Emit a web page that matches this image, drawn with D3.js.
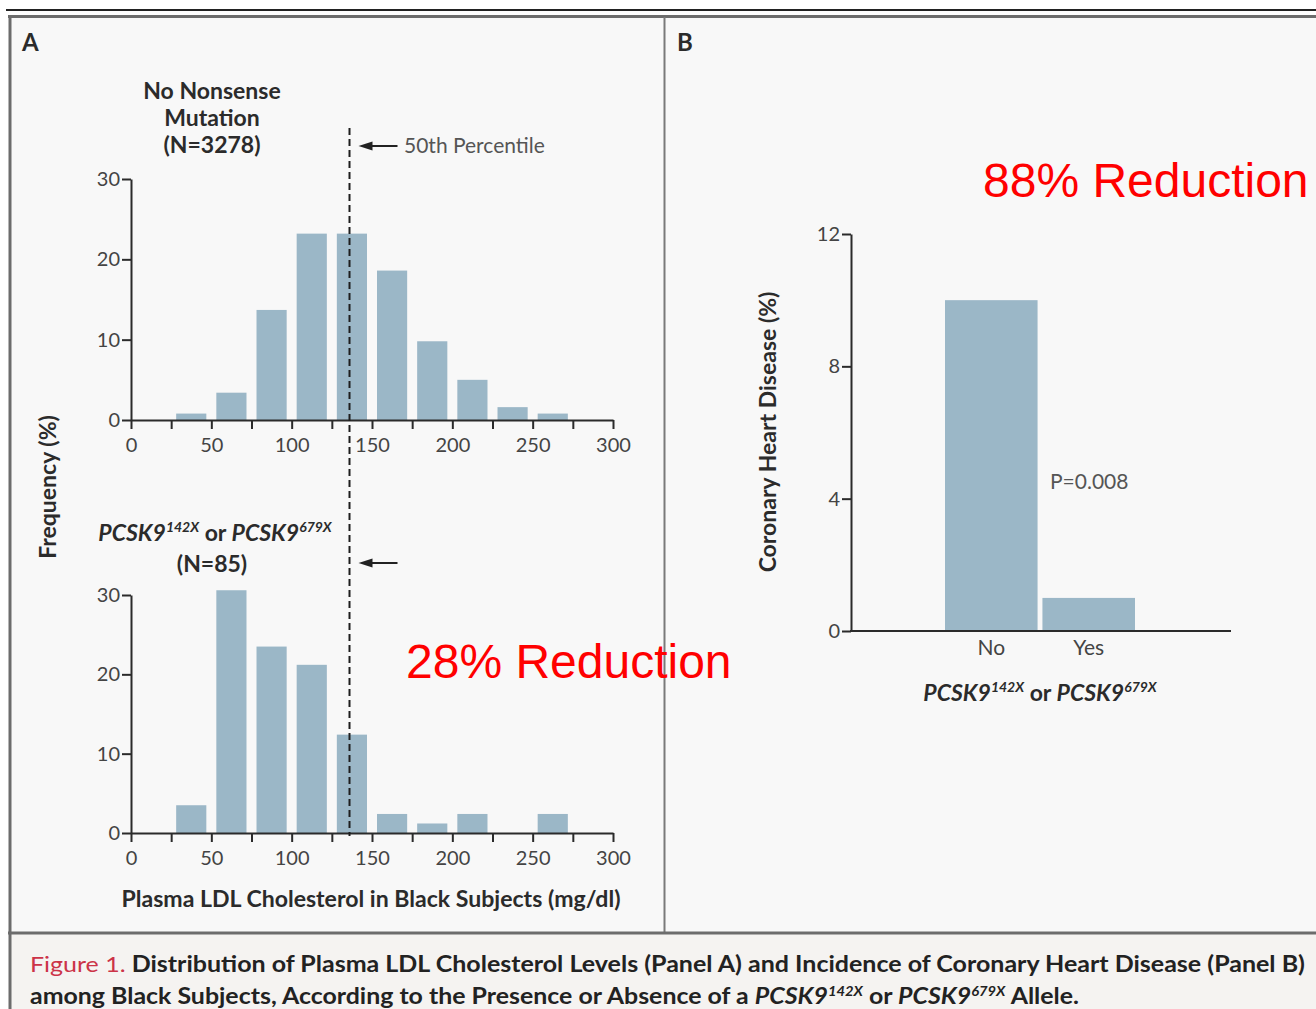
<!DOCTYPE html>
<html>
<head>
<meta charset="utf-8">
<script src="https://cdn.jsdelivr.net/npm/d3@7"></script>
<style>
  html, body { margin: 0; padding: 0; background: #ffffff; }
  svg { display: block; font-family: Lato, "Open Sans", sans-serif; }
</style>
</head>
<body>
<svg id="fig" width="1316" height="1009"></svg>
<script>
// LDL histogram bins (lower edge, mg/dl), 25 mg/dl wide
const ldlBinStarts = [25, 50, 75, 100, 125, 150, 175, 200, 225, 250];
const ldlBinWidth = 25;
// Frequency (%) of subjects in each bin
const freqNoMutation = [0.8, 3.4, 13.7, 23.2, 23.2, 18.6, 9.8, 5.0, 1.6, 0.8];
const freqNonsense = [3.5, 30.6, 23.5, 21.2, 12.4, 2.4, 1.2, 2.4, 0, 2.4];
// 50th percentile of LDL in the no-mutation group
const medianLDL = 136;
const ldlTickValues = d3.range(0, 301, 25);
const ldlLabelValues = [0, 50, 100, 150, 200, 250, 300];
const freqTickValues = [0, 10, 20, 30];

// Coronary heart disease incidence by carrier status
const chdGroups = ["No", "Yes"];
const chdRates = [10.0, 1.0];
const chdTickValues = [0, 4, 8, 12];

const barColor = "#9bb7c7";
const inkColor = "#2b2b2b";
const tickTextColor = "#444";
const titleSize = 23;

const svg = d3.select("#fig");

// ---------- frame ----------
svg.append("rect").attr("x", 10).attr("y", 17).attr("width", 1306).attr("height", 916).attr("fill", "#f8f8f8");
svg.append("rect").attr("x", 10).attr("y", 934).attr("width", 1306).attr("height", 75).attr("fill", "#f5f3f1");
svg.append("line").attr("x1", 6).attr("x2", 1316).attr("y1", 10).attr("y2", 10)
  .attr("stroke", "#222").attr("stroke-width", 2);
svg.append("line").attr("x1", 8).attr("x2", 1316).attr("y1", 16.5).attr("y2", 16.5)
  .attr("stroke", "#6c6c6c").attr("stroke-width", 3);
svg.append("line").attr("x1", 10).attr("x2", 10).attr("y1", 15).attr("y2", 1009)
  .attr("stroke", "#6c6c6c").attr("stroke-width", 3);
svg.append("line").attr("x1", 664.5).attr("x2", 664.5).attr("y1", 17).attr("y2", 933)
  .attr("stroke", "#7a7a7a").attr("stroke-width", 2);
svg.append("line").attr("x1", 8).attr("x2", 1316).attr("y1", 933).attr("y2", 933)
  .attr("stroke", "#6c6c6c").attr("stroke-width", 3);

// panel letters
svg.append("text").attr("x", 22).attr("y", 51).text("A")
  .attr("font-size", 24).attr("font-weight", 700).attr("fill", inkColor);
svg.append("text").attr("x", 677).attr("y", 51).text("B")
  .attr("font-size", 24).attr("font-weight", 700).attr("fill", inkColor);

// ---------- Panel A: histograms ----------
const x = d3.scaleLinear().domain([0, 300]).range([131, 613]);
const yTop = d3.scaleLinear().domain([0, 30]).range([420, 179]);
const yBot = d3.scaleLinear().domain([0, 30]).range([833, 595]);
const barInset = 5;

function styleAxis(g) {
  g.selectAll("path.domain").attr("stroke", inkColor).attr("stroke-width", 2);
  g.selectAll(".tick line").attr("stroke", inkColor).attr("stroke-width", 2);
  g.selectAll(".tick text").attr("fill", tickTextColor).attr("font-size", 20)
    .attr("font-family", "Lato, sans-serif");
}

function histogram(yScale, values) {
  const g = svg.append("g");
  g.selectAll("rect").data(values).join("rect")
    .attr("x", (d, i) => x(ldlBinStarts[i]) + barInset)
    .attr("width", (d, i) => x(ldlBinStarts[i] + ldlBinWidth) - x(ldlBinStarts[i]) - 2 * barInset)
    .attr("y", d => yScale(d))
    .attr("height", d => yScale(0) - yScale(d))
    .attr("fill", barColor);

  const yAxis = svg.append("g").attr("transform", `translate(${x(0)},0)`)
    .call(d3.axisLeft(yScale).tickValues(freqTickValues).tickSize(9).tickSizeOuter(0).tickPadding(2));
  styleAxis(yAxis);

  const xAxis = svg.append("g").attr("transform", `translate(0,${yScale(0)})`)
    .call(d3.axisBottom(x).tickValues(ldlTickValues).tickSize(9).tickSizeOuter(0).tickPadding(9)
      .tickFormat(d => ldlLabelValues.includes(d) ? d : ""));
  styleAxis(xAxis);
}

histogram(yTop, freqNoMutation);
histogram(yBot, freqNonsense);

// median reference line through both histograms
svg.append("line")
  .attr("x1", x(medianLDL)).attr("x2", x(medianLDL))
  .attr("y1", 128).attr("y2", yBot(0) + 3)
  .attr("stroke", "#1e1e1e").attr("stroke-width", 2).attr("stroke-dasharray", "7,4");

function leftArrow(y) {
  const xs = x(medianLDL) + 9;
  svg.append("line").attr("x1", xs + 8).attr("x2", xs + 39).attr("y1", y).attr("y2", y)
    .attr("stroke", "#222").attr("stroke-width", 2);
  svg.append("path")
    .attr("d", `M${xs},${y} L${xs + 14},${y - 4.5} L${xs + 14},${y + 4.5} Z`)
    .attr("fill", "#222");
}
leftArrow(146);
leftArrow(563);
svg.append("text").attr("x", 404).attr("y", 153).text("50th Percentile")
  .attr("font-size", 21).attr("fill", "#555");

// group titles
const topTitle = svg.append("text").attr("text-anchor", "middle").attr("font-weight", 700)
  .attr("font-size", titleSize).attr("fill", inkColor);
["No Nonsense", "Mutation", "(N=3278)"].forEach((t, i) =>
  topTitle.append("tspan").attr("x", 212).attr("y", 99 + i * 27).text(t));

function pcskLabel(sel, size) {
  const sup = Math.round(size * 0.62);
  const up = Math.round(size * 0.38);
  sel.append("tspan").attr("font-style", "italic").text("PCSK9");
  sel.append("tspan").attr("font-style", "italic").attr("font-size", sup).attr("dy", -up).text("142X");
  sel.append("tspan").attr("dy", up).text(" or ");
  sel.append("tspan").attr("font-style", "italic").text("PCSK9");
  sel.append("tspan").attr("font-style", "italic").attr("font-size", sup).attr("dy", -up).text("679X");
}
const botTitle = svg.append("text").attr("x", 215).attr("y", 541).attr("text-anchor", "middle")
  .attr("font-weight", 700).attr("font-size", titleSize).attr("fill", inkColor);
pcskLabel(botTitle, titleSize);
svg.append("text").attr("x", 212).attr("y", 572).attr("text-anchor", "middle")
  .attr("font-weight", 700).attr("font-size", titleSize).attr("fill", inkColor).text("(N=85)");

svg.append("text").attr("x", 371).attr("y", 907).attr("text-anchor", "middle")
  .attr("font-weight", 700).attr("font-size", 22).attr("fill", inkColor)
  .attr("textLength", 499).attr("lengthAdjust", "spacingAndGlyphs")
  .text("Plasma LDL Cholesterol in Black Subjects (mg/dl)");

svg.append("text").attr("transform", "translate(56,487) rotate(-90)").attr("text-anchor", "middle")
  .attr("font-weight", 700).attr("font-size", 23).attr("fill", inkColor).text("Frequency (%)");

// ---------- Panel B: CHD incidence ----------
const xB = d3.scaleBand().domain(chdGroups).range([945, 1135]).paddingInner(0.05);
const yB = d3.scaleLinear().domain([0, 12]).range([631, 234]);

svg.append("g").selectAll("rect").data(chdRates).join("rect")
  .attr("x", (d, i) => xB(chdGroups[i]))
  .attr("width", xB.bandwidth())
  .attr("y", d => yB(d))
  .attr("height", d => yB(0) - yB(d))
  .attr("fill", barColor);

const yAxisB = svg.append("g").attr("transform", "translate(851,0)")
  .call(d3.axisLeft(yB).tickValues(chdTickValues).tickSize(9).tickSizeOuter(0).tickPadding(2));
styleAxis(yAxisB);

const xAxisB = svg.append("g").attr("transform", `translate(0,${yB(0)})`)
  .call(d3.axisBottom(xB).tickSize(0).tickPadding(9));
styleAxis(xAxisB);
xAxisB.selectAll(".tick text").attr("font-size", 21);
xAxisB.select("path.domain").remove();
svg.append("line").attr("x1", 850).attr("x2", 1231).attr("y1", yB(0)).attr("y2", yB(0))
  .attr("stroke", inkColor).attr("stroke-width", 2);

svg.append("text").attr("x", 1050).attr("y", 489).text("P=0.008")
  .attr("font-size", 21).attr("fill", "#555");

svg.append("text").attr("transform", "translate(776,432) rotate(-90)").attr("text-anchor", "middle")
  .attr("font-weight", 700).attr("font-size", 23).attr("fill", inkColor).text("Coronary Heart Disease (%)");

const xTitleB = svg.append("text").attr("x", 1040).attr("y", 701).attr("text-anchor", "middle")
  .attr("font-weight", 700).attr("font-size", titleSize).attr("fill", inkColor);
pcskLabel(xTitleB, titleSize);

// ---------- red annotations ----------
svg.append("text").attr("x", 983).attr("y", 197).text("88% Reduction")
  .attr("font-family", "Liberation Sans, Arial, sans-serif").attr("font-size", 48).attr("fill", "#ff0000");
svg.append("text").attr("x", 406).attr("y", 678).text("28% Reduction")
  .attr("font-family", "Liberation Sans, Arial, sans-serif").attr("font-size", 48).attr("fill", "#ff0000");

// ---------- caption ----------
const cap1 = svg.append("text").attr("x", 30).attr("y", 972).attr("font-size", 22)
  .attr("font-weight", 700).attr("fill", "#222")
  .attr("textLength", 1275).attr("lengthAdjust", "spacingAndGlyphs");
cap1.append("tspan").attr("fill", "#cc3348").attr("font-weight", 400).text("Figure 1.");
cap1.append("tspan").text(" Distribution of Plasma LDL Cholesterol Levels (Panel A) and Incidence of Coronary Heart Disease (Panel B)");

const cap2 = svg.append("text").attr("x", 30).attr("y", 1004).attr("font-size", 22)
  .attr("font-weight", 700).attr("fill", "#222")
  .attr("textLength", 1049).attr("lengthAdjust", "spacingAndGlyphs");
cap2.append("tspan").text("among Black Subjects, According to the Presence or Absence of a ");
cap2.append("tspan").attr("font-style", "italic").text("PCSK9");
cap2.append("tspan").attr("font-style", "italic").attr("font-size", 13).attr("dy", -8).text("142X");
cap2.append("tspan").attr("dy", 8).text(" or ");
cap2.append("tspan").attr("font-style", "italic").text("PCSK9");
cap2.append("tspan").attr("font-style", "italic").attr("font-size", 13).attr("dy", -8).text("679X");
cap2.append("tspan").attr("dy", 8).text(" Allele.");
</script>
</body>
</html>
